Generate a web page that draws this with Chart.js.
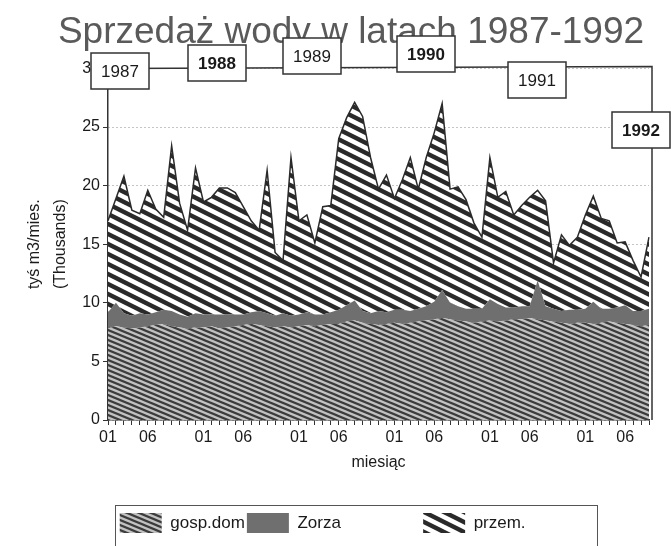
<!DOCTYPE html>
<html>
<head>
<meta charset="utf-8">
<title>Sprzedaż wody w latach 1987-1992</title>
<script src="https://cdn.jsdelivr.net/npm/chart.js@4.4.0/dist/chart.umd.min.js"></script>
<style>
  html, body { margin: 0; padding: 0; background: #fff; }
  #wrap { width: 671px; height: 546px; }
</style>
</head>
<body>
<div id="wrap"><canvas id="wodaChart" width="671" height="546"></canvas></div>
<script>
// miesiace: styczen 1987 .. wrzesien 1992
const miesiace = [
  '1987-01','1987-02','1987-03','1987-04','1987-05','1987-06','1987-07','1987-08','1987-09','1987-10','1987-11','1987-12',
  '1988-01','1988-02','1988-03','1988-04','1988-05','1988-06','1988-07','1988-08','1988-09','1988-10','1988-11','1988-12',
  '1989-01','1989-02','1989-03','1989-04','1989-05','1989-06','1989-07','1989-08','1989-09','1989-10','1989-11','1989-12',
  '1990-01','1990-02','1990-03','1990-04','1990-05','1990-06','1990-07','1990-08','1990-09','1990-10','1990-11','1990-12',
  '1991-01','1991-02','1991-03','1991-04','1991-05','1991-06','1991-07','1991-08','1991-09','1991-10','1991-11','1991-12',
  '1992-01','1992-02','1992-03','1992-04','1992-05','1992-06','1992-07','1992-08','1992-09'
];

// tys. m3 / miesiac
const gospDom = [
  7.8, 8.0, 7.9, 7.8, 7.9, 8.0, 8.1, 8.2, 8.0, 7.9, 7.8, 7.9,
  7.9, 8.0, 7.8, 7.9, 8.0, 8.1, 8.2, 8.1, 8.0, 7.9, 8.0, 7.9,
  8.0, 8.1, 8.0, 8.1, 8.2, 8.2, 8.4, 8.5, 8.3, 8.2, 8.1, 8.2,
  8.3, 8.2, 8.3, 8.4, 8.5, 8.6, 8.7, 8.6, 8.5, 8.4, 8.3, 8.4,
  8.5, 8.4, 8.5, 8.6, 8.6, 8.7, 8.6, 8.5, 8.4, 8.3, 8.2, 8.3,
  8.3, 8.2, 8.3, 8.4, 8.3, 8.2, 8.1, 8.0, 8.1
];
const zorza = [
  1.4, 2.0, 1.2, 1.1, 1.2, 1.0, 1.1, 1.2, 1.3, 1.1, 1.0, 1.2,
  1.1, 1.0, 1.2, 1.1, 1.0, 0.9, 1.0, 1.2, 1.1, 1.0, 1.1, 1.0,
  1.0, 1.1, 1.0, 0.9, 1.0, 1.2, 1.4, 1.7, 1.0, 0.9, 1.2, 1.0,
  1.1, 1.2, 1.0, 1.1, 1.2, 1.5, 2.4, 1.4, 1.2, 1.1, 1.2, 1.1,
  1.8, 1.5, 1.1, 1.0, 1.1, 1.0, 3.3, 1.2, 1.1, 1.0, 1.2, 1.1,
  1.2, 1.9, 1.2, 1.1, 1.3, 1.6, 1.2, 1.3, 1.4
];
const przem = [
  7.8, 8.9, 11.7, 9.0, 8.5, 10.6, 8.8, 7.9, 14.1, 9.5, 7.4, 12.4,
  9.6, 10.0, 10.8, 10.8, 10.4, 9.2, 7.8, 6.9, 12.2, 5.4, 4.5, 13.5,
  8.0, 8.3, 6.1, 9.2, 9.1, 14.6, 16.0, 16.9, 16.6, 13.3, 10.4, 11.7,
  9.5, 11.1, 13.1, 10.2, 12.7, 14.4, 15.9, 9.7, 10.2, 9.3, 7.3, 6.1,
  12.1, 9.1, 9.9, 7.9, 8.6, 9.3, 7.7, 9.0, 3.9, 6.5, 5.5, 6.2,
  8.0, 9.0, 7.7, 7.5, 5.5, 5.4, 4.3, 2.9, 6.1
];

const lata = ['1987', '1988', '1989', '1990', '1991', '1992'];
const yTicki = [0, 5, 10, 15, 20, 25, 30];

// polozenie ramek z latami (px)
const ramkiLat = [
  { x: 120, y: 71, bold: false },
  { x: 217, y: 63, bold: true },
  { x: 312, y: 56, bold: false },
  { x: 426, y: 54, bold: true },
  { x: 537, y: 80, bold: false },
  { x: 641, y: 130, bold: true }
];

function paski(tlo, kolor, w, h, grubosc) {
  const c = document.createElement('canvas');
  c.width = w;
  c.height = h;
  const g = c.getContext('2d');
  g.fillStyle = tlo;
  g.fillRect(0, 0, w, h);
  g.strokeStyle = kolor;
  g.lineWidth = grubosc;
  for (let k = -1; k <= 1; k++) {
    g.beginPath();
    g.moveTo(-w, k * h - h);
    g.lineTo(2 * w, k * h + 2 * h);
    g.stroke();
  }
  return g.createPattern(c, 'repeat');
}

const wzorGosp = paski('#c2c2c2', '#3c3c3c', 12, 5, 2.2);
const wzorPrzem = paski('#ffffff', '#2a2a2a', 20, 10, 4.4);
const wzorZorza = '#6f6f6f';

const ramkaPlugin = {
  id: 'ramka',
  afterDraw(chart) {
    const ctx = chart.ctx;
    const a = chart.chartArea;
    ctx.save();
    ctx.strokeStyle = '#333';
    ctx.lineWidth = 1.5;
    ctx.beginPath();
    ctx.moveTo(a.left, a.top);
    ctx.lineTo(a.right + 3, a.top - 2);
    ctx.lineTo(a.right + 3, a.bottom);
    ctx.stroke();

    ctx.textAlign = 'center';
    ctx.textBaseline = 'middle';
    lata.forEach(function(rok, i) {
      const r = ramkiLat[i];
      ctx.fillStyle = '#fff';
      ctx.fillRect(r.x - 29, r.y - 18, 58, 36);
      ctx.strokeStyle = '#333';
      ctx.lineWidth = 1.5;
      ctx.strokeRect(r.x - 29, r.y - 18, 58, 36);
      ctx.fillStyle = '#1a1a1a';
      ctx.font = (r.bold ? 'bold ' : '') + '17px "Liberation Sans", Arial, sans-serif';
      ctx.fillText(rok, r.x, r.y + 1);
    });

    ctx.strokeStyle = '#555';
    ctx.lineWidth = 1;
    ctx.strokeRect(115.5, 505.5, 482, 60);
    ctx.restore();
  }
};

const ctx = document.getElementById('wodaChart').getContext('2d');
const wodaChart = new Chart(ctx, {
  type: 'line',
  data: {
    labels: miesiace,
    datasets: [{
      label: 'gosp.dom',
      data: gospDom,
      backgroundColor: wzorGosp,
      borderColor: '#555',
      borderWidth: 0,
      fill: 'origin',
      pointRadius: 0,
      tension: 0
    }, {
      label: 'Zorza',
      data: zorza,
      backgroundColor: wzorZorza,
      borderColor: '#555',
      borderWidth: 0,
      fill: '-1',
      pointRadius: 0,
      tension: 0
    }, {
      label: 'przem.',
      data: przem,
      backgroundColor: wzorPrzem,
      borderColor: '#2a2a2a',
      borderWidth: 1.5,
      fill: '-1',
      pointRadius: 0,
      tension: 0
    }]
  },
  options: {
    responsive: false,
    animation: false,
    devicePixelRatio: 1,
    layout: {
      padding: { left: 53, right: 22, top: 0, bottom: 3 }
    },
    plugins: {
      title: {
        display: true,
        text: 'Sprzedaż wody w latach 1987-1992',
        color: '#5a5a5a',
        font: { family: '"Liberation Sans", Arial, sans-serif', size: 37, weight: 'normal' },
        padding: { top: 11, bottom: 13 }
      },
      legend: {
        position: 'bottom',
        labels: {
          boxWidth: 42,
          boxHeight: 20,
          padding: 2,
          color: '#1a1a1a',
          font: { family: '"Liberation Sans", Arial, sans-serif', size: 17 },
          generateLabels: function(chart) {
            const items = Chart.defaults.plugins.legend.labels.generateLabels(chart);
            items.forEach(function(it) {
              it.lineWidth = 0;
              if (it.text === 'Zorza') it.text = 'Zorza' + ' '.repeat(17);
              if (it.text === 'przem.') it.text = 'przem.' + ' '.repeat(12);
            });
            return items;
          }
        }
      },
      tooltip: { enabled: false }
    },
    scales: {
      x: {
        stacked: true,
        offset: false,
        afterFit: function(s) { s.height = 91; },
        grid: {
          drawOnChartArea: false,
          drawTicks: true,
          tickLength: 5,
          tickColor: '#333'
        },
        border: { display: true, color: '#333', width: 1.5 },
        ticks: {
          autoSkip: false,
          maxRotation: 0,
          padding: 3,
          color: '#1a1a1a',
          font: { family: '"Liberation Sans", Arial, sans-serif', size: 16 },
          callback: function(value) {
            const m = this.getLabelForValue(value).slice(5);
            return (m === '01' || m === '06') ? m : '';
          }
        },
        title: {
          display: true,
          text: 'miesiąc',
          color: '#1a1a1a',
          font: { family: '"Liberation Sans", Arial, sans-serif', size: 16 },
          padding: { top: 4, bottom: 39 }
        }
      },
      y: {
        stacked: true,
        min: 0,
        max: 30,
        afterFit: function(s) { s.width = 55; },
        afterBuildTicks: function(s) {
          s.ticks = yTicki.map(function(v) { return { value: v }; });
        },
        grid: {
          color: '#8a8a8a',
          lineWidth: 1,
          drawTicks: true,
          tickLength: 5,
          tickColor: '#333'
        },
        border: { display: true, color: '#333', width: 1.5, dash: [1, 3] },
        ticks: {
          padding: 3,
          color: '#1a1a1a',
          font: { family: '"Liberation Sans", Arial, sans-serif', size: 16 }
        },
        title: {
          display: true,
          text: ['tyś m3/mies.', '(Thousands)'],
          color: '#1a1a1a',
          font: { family: '"Liberation Sans", Arial, sans-serif', size: 16, lineHeight: 1.6 },
          padding: { top: -31, bottom: 0 }
        }
      }
    }
  },
  plugins: [ramkaPlugin]
});
</script>
</body>
</html>
